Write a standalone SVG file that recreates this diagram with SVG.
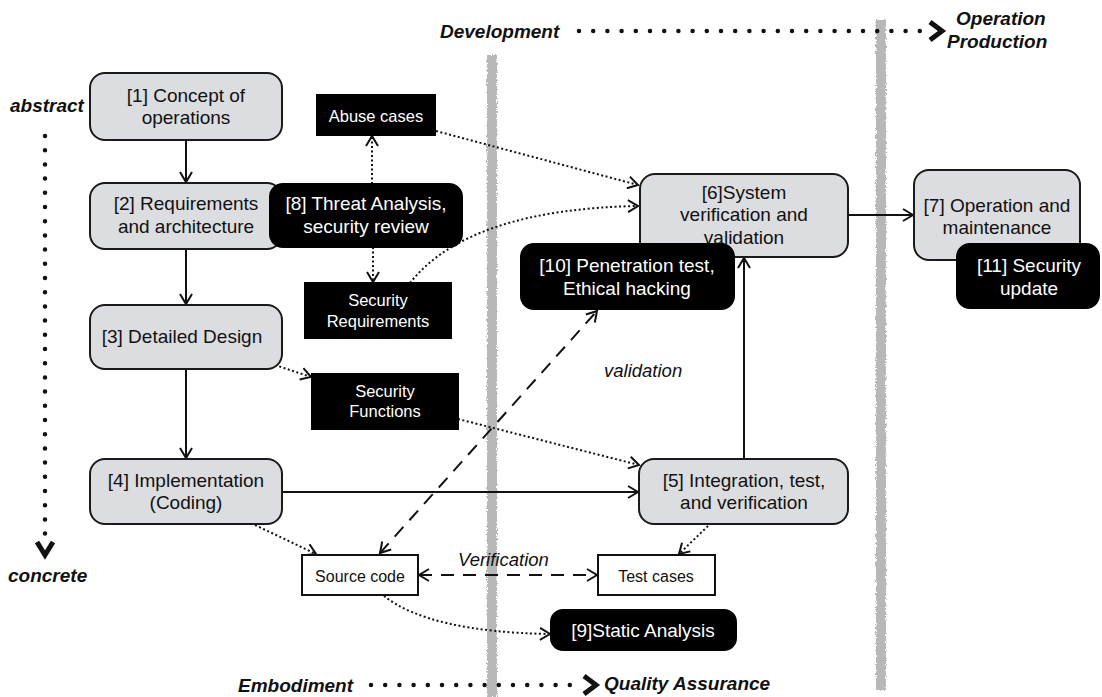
<svg xmlns="http://www.w3.org/2000/svg" width="1102" height="697" viewBox="0 0 1102 697">
  <style>
    text { font-family: "Liberation Sans", Arial, sans-serif; }
    .proc rect { fill: #dcdde0; stroke: #1a1a1a; stroke-width: 2; }
    .proc text { font-size: 19px; fill: #111; text-anchor: middle; }
    .sec rect { fill: #000; stroke: #000; stroke-width: 2; }
    .sec text { font-size: 19px; fill: #fff; text-anchor: middle; }
    .sec text.small { font-size: 16.5px; }
    .art rect { fill: #fff; stroke: #111; stroke-width: 2; }
    .art text { font-size: 16px; fill: #111; text-anchor: middle; }
    .axis { font-size: 19px; font-weight: bold; font-style: italic; fill: #111; }
    .note { font-size: 18.5px; font-style: italic; fill: #111; }
    .solid { fill: none; stroke: #111; stroke-width: 2; }
    .dotted { fill: none; stroke: #111; stroke-width: 2; stroke-dasharray: 2 2.5; }
    .dashed { fill: none; stroke: #111; stroke-width: 2; stroke-dasharray: 13 9; }
    .bigdots { fill: none; stroke: #111; stroke-width: 4.5; stroke-linecap: round; stroke-dasharray: 0 14.2; }
    .chevron { fill: none; stroke: #111; stroke-width: 5; stroke-linejoin: miter; }
    .band { fill: #b8b8b8; }
  </style>
  <defs>
    <marker id="head" markerUnits="userSpaceOnUse" markerWidth="14" markerHeight="14" refX="11" refY="7" orient="auto-start-reverse">
      <path d="M1,1 L11,7 L1,13" fill="none" stroke="#111" stroke-width="2" stroke-dasharray="none"/>
    </marker>
    <filter id="rough" x="-50%" y="-2%" width="200%" height="104%">
      <feTurbulence type="fractalNoise" baseFrequency="0.9 0.6" numOctaves="2" seed="3" result="n"/>
      <feDisplacementMap in="SourceGraphic" in2="n" scale="4" xChannelSelector="R" yChannelSelector="G"/>
    </filter>
  </defs>

  <!-- phase separators -->
  <g id="separators">
    <rect class="band" x="487" y="55" width="10" height="642" filter="url(#rough)"/>
    <rect class="band" x="876" y="20" width="10" height="670" filter="url(#rough)"/>
  </g>

  <!-- axes -->
  <g id="axes">
    <text class="axis" x="440" y="38">Development</text>
    <path class="bigdots" d="M579,31 L925,31"/>
    <path class="chevron" d="M930,22 L942,31 L930,40"/>
    <text class="axis" x="956" y="25">Operation</text>
    <text class="axis" x="947" y="48">Production</text>

    <text class="axis" x="10" y="112">abstract</text>
    <path class="bigdots" d="M45,136 L45,535"/>
    <path class="chevron" d="M37,542 L45,555 L53,542"/>
    <text class="axis" x="8" y="582">concrete</text>

    <text class="axis" x="238" y="692">Embodiment</text>
    <path class="bigdots" d="M371,685 L580,685"/>
    <path class="chevron" d="M584,676 L596,685 L584,694"/>
    <text class="axis" x="604" y="690">Quality Assurance</text>
  </g>

  <!-- connectors -->
  <g id="connectors">
    <path class="solid" d="M186,140 L186,182" marker-end="url(#head)"/>
    <path class="solid" d="M186,249 L186,304" marker-end="url(#head)"/>
    <path class="solid" d="M186,369 L186,458" marker-end="url(#head)"/>
    <path class="solid" d="M282,492 L638,492" marker-end="url(#head)"/>
    <path class="solid" d="M744,459 L744,258" marker-end="url(#head)"/>
    <path class="solid" d="M848,215 L913,215" marker-end="url(#head)"/>

    <path class="dotted" d="M372,184 L372,136" marker-end="url(#head)"/>
    <path class="dotted" d="M373,247 L373,282" marker-end="url(#head)"/>
    <path class="dotted" d="M436,131 L638,185" marker-end="url(#head)"/>
    <path class="dotted" d="M410,283 C450,232 530,208 638,206" marker-end="url(#head)"/>
    <path class="dotted" d="M275,365 L311,377" marker-end="url(#head)"/>
    <path class="dotted" d="M458,419 L639,465" marker-end="url(#head)"/>
    <path class="dotted" d="M255,525 L316,554" marker-end="url(#head)"/>
    <path class="dotted" d="M708,526 L679,554" marker-end="url(#head)"/>
    <path class="dotted" d="M384,596 Q430,632 550,634" marker-end="url(#head)"/>

    <path class="dashed" d="M419,575 L597,575" marker-start="url(#head)" marker-end="url(#head)"/>
    <path class="dashed" d="M380,553 L597,311" marker-start="url(#head)" marker-end="url(#head)"/>

    <text class="note" x="458" y="566">Verification</text>
    <text class="note" x="604" y="377">validation</text>
  </g>

  <!-- process steps -->
  <g id="n1" class="proc">
    <rect x="90" y="73" width="192" height="67" rx="15"/>
    <text x="186" y="102">[1] Concept of</text>
    <text x="186" y="124">operations</text>
  </g>
  <g id="n2" class="proc">
    <rect x="90" y="183" width="192" height="66" rx="15"/>
    <text x="186" y="210">[2] Requirements</text>
    <text x="186" y="233">and architecture</text>
  </g>
  <g id="n3" class="proc">
    <rect x="90" y="305" width="192" height="64" rx="15"/>
    <text x="182" y="343">[3] Detailed Design</text>
  </g>
  <g id="n4" class="proc">
    <rect x="90" y="459" width="192" height="65" rx="15"/>
    <text x="186" y="487">[4] Implementation</text>
    <text x="186" y="509">(Coding)</text>
  </g>
  <g id="n5" class="proc">
    <rect x="639" y="459" width="209" height="65" rx="15"/>
    <text x="744" y="487">[5] Integration, test,</text>
    <text x="744" y="509">and verification</text>
  </g>
  <g id="n6" class="proc">
    <rect x="640" y="174" width="208" height="83" rx="15"/>
    <text x="744" y="199">[6]System</text>
    <text x="744" y="221">verification and</text>
    <text x="744" y="244">validation</text>
  </g>
  <g id="n7" class="proc">
    <rect x="914" y="170" width="166" height="90" rx="15"/>
    <text x="997" y="212">[7] Operation and</text>
    <text x="997" y="234">maintenance</text>
  </g>

  <!-- security activities -->
  <g id="n8" class="sec">
    <rect x="270" y="184" width="192" height="63" rx="13"/>
    <text x="366" y="210">[8] Threat Analysis,</text>
    <text x="366" y="233">security review</text>
  </g>
  <g id="n9" class="sec">
    <rect x="551" y="610" width="185" height="40" rx="12"/>
    <text x="643" y="637">[9]Static Analysis</text>
  </g>
  <g id="n10" class="sec">
    <rect x="521" y="244" width="213" height="65" rx="13"/>
    <text x="627" y="272">[10] Penetration test,</text>
    <text x="627" y="295">Ethical hacking</text>
  </g>
  <g id="n11" class="sec">
    <rect x="957" y="244" width="142" height="64" rx="13"/>
    <text x="1029" y="272">[11] Security</text>
    <text x="1029" y="295">update</text>
  </g>

  <!-- security artifacts -->
  <g id="abuse" class="sec">
    <rect x="317" y="95" width="118" height="40" rx="0"/>
    <text class="small" x="376" y="122">Abuse cases</text>
  </g>
  <g id="secreq" class="sec">
    <rect x="305" y="283" width="146" height="55" rx="0"/>
    <text class="small" x="378" y="306">Security</text>
    <text class="small" x="378" y="327">Requirements</text>
  </g>
  <g id="secfunc" class="sec">
    <rect x="312" y="374" width="146" height="55" rx="0"/>
    <text class="small" x="385" y="397">Security</text>
    <text class="small" x="385" y="417">Functions</text>
  </g>

  <!-- work products -->
  <g id="source" class="art">
    <rect x="302" y="555" width="116" height="40"/>
    <text x="360" y="582">Source code</text>
  </g>
  <g id="tests" class="art">
    <rect x="598" y="555" width="117" height="40"/>
    <text x="656" y="582">Test cases</text>
  </g>
</svg>
